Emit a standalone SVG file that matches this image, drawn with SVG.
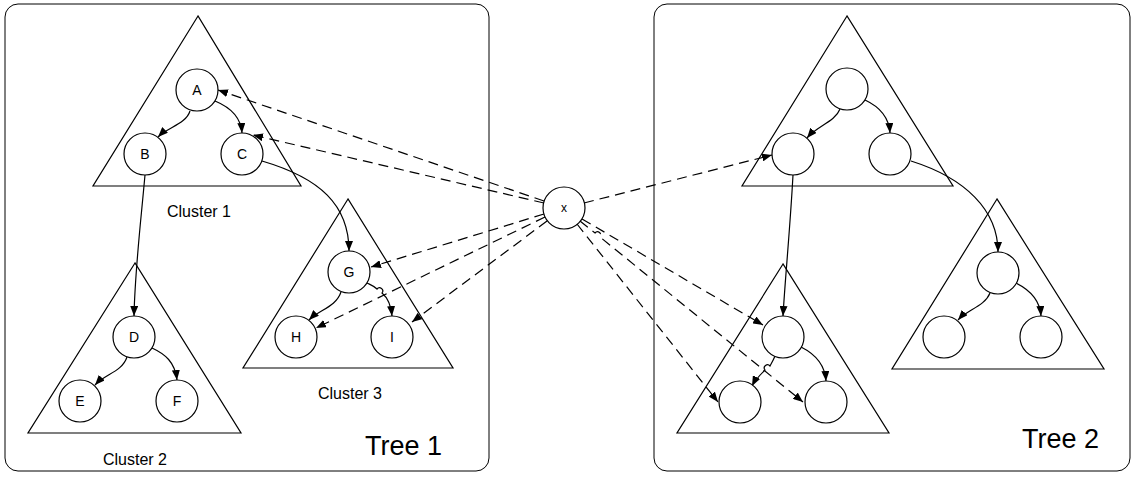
<svg xmlns="http://www.w3.org/2000/svg" width="1133" height="478" viewBox="0 0 1133 478">
  <style>
    .frame { fill: #ffffff; stroke: #000000; stroke-width: 1; }
    .tri { fill: none; stroke: #000000; stroke-width: 1.2; }
    .node { fill: #ffffff; stroke: #000000; stroke-width: 1.2; }
    .edge { fill: none; stroke: #000000; stroke-width: 1.2; marker-end: url(#arrow); }
    .ref { fill: none; stroke: #000000; stroke-width: 1.2; stroke-dasharray: 10 6; marker-end: url(#arrow); }
    .lbl { font-family: "Liberation Sans", Arial, sans-serif; font-size: 14px; fill: #000000; text-anchor: middle; }
    .cap { font-family: "Liberation Sans", Arial, sans-serif; font-size: 16px; fill: #000000; text-anchor: middle; }
    .title { font-family: "Liberation Sans", Arial, sans-serif; font-size: 27px; fill: #000000; }
  </style>
  <defs>
    <marker id="arrow" viewBox="0 0 10 8" refX="10" refY="4" markerWidth="10" markerHeight="8" markerUnits="userSpaceOnUse" orient="auto">
      <path d="M0,0 L10,4 L0,8 z" fill="#000000"/>
    </marker>
  </defs>

  <rect width="1133" height="478" fill="#ffffff"/>

  <!-- Tree frames -->
  <g id="tree1">
    <rect class="frame" x="5" y="4" width="484" height="467" rx="13" ry="13"/>
    <text class="title" x="365" y="455">Tree 1</text>
  </g>
  <g id="tree2">
    <rect class="frame" x="654" y="4" width="476" height="467" rx="13" ry="13"/>
    <text class="title" x="1022" y="448">Tree 2</text>
  </g>

  <!-- Cluster outlines -->
  <g id="cluster1">
    <polygon class="tri" points="198,16 93,186 301,186"/>
    <text class="cap" x="199" y="217">Cluster 1</text>
  </g>
  <g id="cluster2">
    <polygon class="tri" points="135,263 28,433 241,433"/>
    <text class="cap" x="135" y="465">Cluster 2</text>
  </g>
  <g id="cluster3">
    <polygon class="tri" points="348,199 243,368 453,368"/>
    <text class="cap" x="350" y="399">Cluster 3</text>
  </g>
  <g id="cluster4">
    <polygon class="tri" points="847,16 742,186 953,186"/>
  </g>
  <g id="cluster5">
    <polygon class="tri" points="783,264 677,433 889,433"/>
  </g>
  <g id="cluster6">
    <polygon class="tri" points="997,199 892,369 1104,369"/>
  </g>

  <!-- Connectors -->
  <g id="connectors">
    <!-- Tree 1 parent links -->
    <path class="edge" d="M190,111 C186,124 168,127 158,137"/>
    <path class="edge" d="M215,101 C232,108 241,118 242,133"/>
    <path class="edge" d="M145,175 C140,230 135,270 134,316"/>
    <path class="edge" d="M262,161 C320,178 349,205 349,251"/>
    <path class="edge" d="M127,357 C122,372 105,374 95,385"/>
    <path class="edge" d="M152,348 C165,354 175,362 177,380"/>
    <path class="edge" d="M341,292 C336,307 319,310 309,320"/>
    <path class="edge" d="M367,283 C371,285 374,286 377,289 A3,3 0 0 1 382,293 C388,298 391,305 392,316"/>

    <!-- Tree 2 parent links -->
    <path class="edge" d="M840,109 C835,122 817,126 807,138"/>
    <path class="edge" d="M865,100 C880,107 889,117 890,133"/>
    <path class="edge" d="M793,175 C790,230 785,280 783,316"/>
    <path class="edge" d="M911,161 C965,178 998,210 998,252"/>
    <path class="edge" d="M775,356 C773,361 771,364 770,366 A3,3 0 0 0 765,370 C760,375 755,380 752,386"/>
    <path class="edge" d="M801,347 C815,354 825,365 826,381"/>
    <path class="edge" d="M990,293 C985,306 967,310 958,320"/>
    <path class="edge" d="M1016,283 C1030,290 1040,300 1041,316"/>

    <!-- Links from x -->
    <path class="ref" d="M544,201 L218,90"/>
    <path class="ref" d="M544,203 L253,135"/>
    <path class="ref" d="M544,214 L371,267"/>
    <path class="ref" d="M545,217 L316,328"/>
    <path class="ref" d="M547,221 L412,322"/>
    <path class="ref" d="M584,203 L772,155"/>
    <path class="ref" d="M582,219 L763,325"/>
    <path class="ref" d="M577,224 L718,402"/>
    <path class="ref" d="M580,221 L595,233 A3,3 0 0 1 600,237 L803,402"/>
  </g>

  <!-- Tree 1 nodes -->
  <g id="nA"><circle class="node" cx="197" cy="90" r="21"/><text class="lbl" x="197" y="95">A</text></g>
  <g id="nB"><circle class="node" cx="145" cy="154" r="21"/><text class="lbl" x="145" y="159">B</text></g>
  <g id="nC"><circle class="node" cx="242" cy="154" r="21"/><text class="lbl" x="242" y="159">C</text></g>
  <g id="nD"><circle class="node" cx="134" cy="337" r="21"/><text class="lbl" x="134" y="342">D</text></g>
  <g id="nE"><circle class="node" cx="80" cy="401" r="21"/><text class="lbl" x="80" y="406">E</text></g>
  <g id="nF"><circle class="node" cx="177" cy="401" r="21"/><text class="lbl" x="177" y="406">F</text></g>
  <g id="nG"><circle class="node" cx="349" cy="272" r="21"/><text class="lbl" x="349" y="277">G</text></g>
  <g id="nH"><circle class="node" cx="296" cy="337" r="21"/><text class="lbl" x="296" y="342">H</text></g>
  <g id="nI"><circle class="node" cx="392" cy="337" r="21"/><text class="lbl" x="392" y="342">I</text></g>

  <!-- Query node -->
  <g id="nX"><circle class="node" cx="564" cy="208" r="21"/><text class="lbl" x="564" y="212" style="font-size:12px">x</text></g>

  <!-- Tree 2 nodes -->
  <g id="m1"><circle class="node" cx="847" cy="89" r="21"/></g>
  <g id="m2"><circle class="node" cx="793" cy="154" r="21"/></g>
  <g id="m3"><circle class="node" cx="890" cy="154" r="21"/></g>
  <g id="m4"><circle class="node" cx="783" cy="337" r="21"/></g>
  <g id="m5"><circle class="node" cx="740" cy="402" r="21"/></g>
  <g id="m6"><circle class="node" cx="826" cy="402" r="21"/></g>
  <g id="m7"><circle class="node" cx="998" cy="273" r="21"/></g>
  <g id="m8"><circle class="node" cx="944" cy="337" r="21"/></g>
  <g id="m9"><circle class="node" cx="1041" cy="337" r="21"/></g>
</svg>
